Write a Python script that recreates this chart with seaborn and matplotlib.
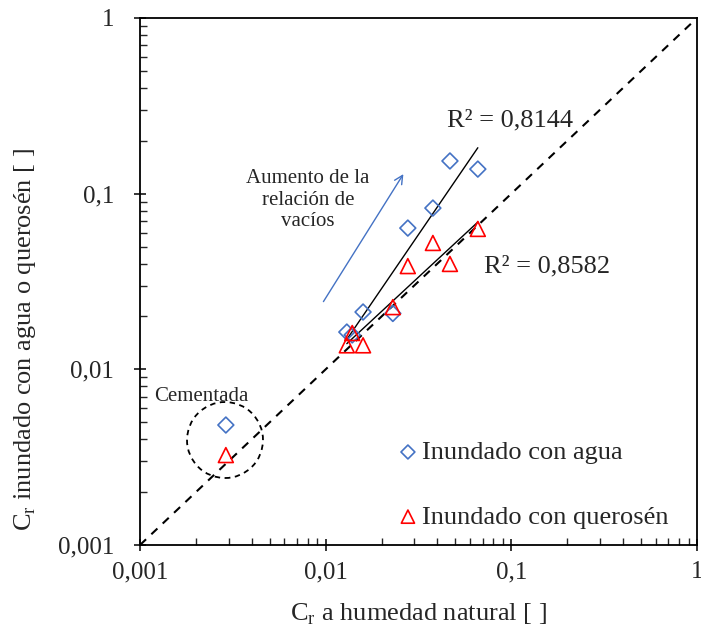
import numpy as np
import matplotlib
matplotlib.use("Agg")
import matplotlib.pyplot as plt
import seaborn as sns
from matplotlib.patches import Ellipse
from matplotlib.ticker import FixedLocator, FixedFormatter, LogLocator, NullFormatter

# Data
x_nat = [0.0130, 0.0139, 0.0159, 0.0230, 0.0277, 0.0378, 0.0467, 0.0660]
y_agua = [0.0163, 0.0157, 0.0212, 0.0208, 0.0637, 0.0828, 0.1535, 0.1380]
y_kero = [0.0137, 0.0161, 0.0137, 0.0226, 0.0387, 0.0524, 0.0398, 0.0630]
x_cem = [0.0029]
y_cem_agua = [0.00482]
y_cem_kero = [0.00325]
r2_agua_label = "R² = 0,8144"
r2_kero_label = "R² = 0,8582"
tick_vals = [0.001, 0.01, 0.1, 1]
tick_labels = ["0,001", "0,01", "0,1", "1"]

sns.set_style("white")
plt.rcParams["font.family"] = ["Liberation Serif", "DejaVu Serif"]
plt.rcParams["mathtext.fontset"] = "custom"
plt.rcParams["mathtext.rm"] = "Liberation Serif"

blue = "#4472C4"
red = "#FF0000"

fig = plt.figure(figsize=(7.01, 6.33), dpi=100)
ax = fig.add_axes([140 / 701, 88 / 633, 557 / 701, 527 / 633])
ax.set_xscale("log")
ax.set_yscale("log")
ax.set_xlim(0.001, 1)
ax.set_ylim(0.001, 1)

# 1:1 line
ax.plot([0.001, 1], [0.001, 1], color="black", lw=1.5, ls=(0, (4, 3.5)), zorder=1)

# trend lines (power fit)
for yv in (y_agua, y_kero):
    lx = np.log10(x_nat)
    ly = np.log10(yv)
    b, a = np.polyfit(lx, ly, 1)
    xs = np.array([min(x_nat), max(x_nat)])
    ax.plot(xs, 10 ** (a + b * np.log10(xs)), color="black", lw=1.0, zorder=2)

sns.scatterplot(x=x_nat + x_cem, y=y_agua + y_cem_agua, marker="D", s=65,
                facecolor="none", edgecolor=blue, linewidth=1.2, ax=ax, zorder=3)
sns.scatterplot(x=x_nat + x_cem, y=y_kero + y_cem_kero, marker="^", s=115,
                facecolor="none", edgecolor=red, linewidth=1.2, ax=ax, zorder=3)

# legend handles
h1 = ax.scatter([], [], marker="D", s=50, facecolor="none", edgecolor=blue, linewidth=1.2,
                label="Inundado con agua")
h2 = ax.scatter([], [], marker="^", s=90, facecolor="none", edgecolor=red, linewidth=1.2,
                label="Inundado con querosén")
leg = ax.legend(handles=[h1, h2], loc="center left", bbox_to_anchor=(0.436, 0.1148),
                frameon=False, fontsize=19, handletextpad=0.0, handlelength=1.1,
                labelspacing=1.56, borderaxespad=0.0)

# arrow and annotations
ax.annotate("", xy=(0.0267, 0.1333), xytext=(0.00955, 0.02356),
            arrowprops=dict(arrowstyle="->", color=blue, lw=1.0, mutation_scale=15))
ax.text(0.00804, 0.092, "Aumento de la\nrelación de\nvacíos", ha="center", va="center",
        fontsize=15, linespacing=1.15)
ax.text(0.00213, 0.00705, "Cementada", ha="center", va="center", fontsize=15)
ax.add_patch(Ellipse((0.1526, 0.1992), 0.1364, 0.1442, transform=ax.transAxes,
                     fill=False, ec="black", lw=1.3, ls=(0, (3, 2.5))))
ax.text(0.045, 0.2625, r2_agua_label, ha="left", va="center", fontsize=19)
ax.text(0.0711, 0.0387, r2_kero_label, ha="left", va="center", fontsize=19)

# ticks
for axis in (ax.xaxis, ax.yaxis):
    axis.set_major_locator(FixedLocator(tick_vals))
    axis.set_major_formatter(FixedFormatter(tick_labels))
    axis.set_minor_locator(LogLocator(base=10, subs=np.arange(2, 10)))
    axis.set_minor_formatter(NullFormatter())
ax.tick_params(which="major", direction="inout", length=9, width=1.3, labelsize=18,
               bottom=True, left=True, top=False, right=False)
ax.tick_params(axis="x", which="major", pad=7)
ax.tick_params(axis="y", which="major", pad=14)
ax.tick_params(which="minor", direction="in", length=5, width=1.0,
               bottom=True, left=True, top=False, right=False)
for sp in ax.spines.values():
    sp.set_color("black")
    sp.set_linewidth(1.3)

ax.set_xlabel(r"C$_\mathregular{r}$ a humedad natural [ ]", fontsize=19, labelpad=13)
ax.set_ylabel(r"C$_\mathregular{r}$ inundado con agua o querosén [ ]", fontsize=19)
ax.yaxis.set_label_coords(-0.183, 0.389)

fig.savefig("out.png", dpi=100)
